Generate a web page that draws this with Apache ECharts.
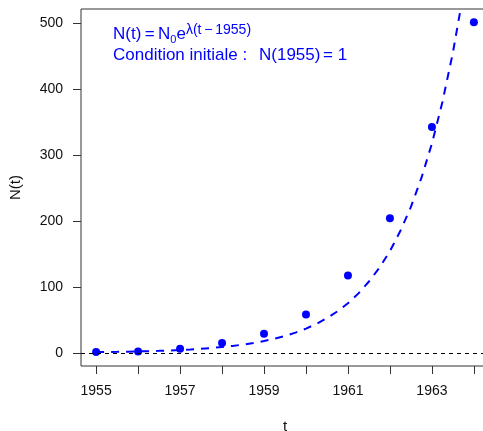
<!DOCTYPE html>
<html>
<head>
<meta charset="utf-8">
<script src="https://cdn.jsdelivr.net/npm/echarts@6/dist/echarts.min.js"></script>
<style>
html,body{margin:0;padding:0;background:#fff;}
#chart{width:483px;height:431px;}
</style>
</head>
<body>
<div id="chart"></div>
<script>
// Observed data
const years = [1955, 1956, 1957, 1958, 1959, 1960, 1961, 1962, 1963, 1964];
const counts = [1, 2, 6, 15, 29, 58, 117, 204, 342, 501];

// Fitted model curve N(t) = N0 e^{λ(t-1955)}
const curveT = [1955, 1955.25, 1955.5, 1955.75, 1956, 1956.25, 1956.5, 1956.75, 1957, 1957.25,
  1957.5, 1957.75, 1958, 1958.25, 1958.5, 1958.75, 1959, 1959.25, 1959.5, 1959.75,
  1960, 1960.25, 1960.5, 1960.75, 1961, 1961.25, 1961.5, 1961.75, 1962, 1962.25,
  1962.5, 1962.75, 1963, 1963.25, 1963.5, 1963.75];
const curveN = [1, 1.2, 1.43, 1.72, 2.05, 2.46, 2.95, 3.5, 4.2, 5.05,
  6.05, 7.2, 8.7, 10.4, 12.4, 14.9, 17.8, 21.3, 25.5, 30.6,
  36.6, 43.8, 52.5, 62.8, 75, 90, 108, 129, 154, 185,
  221, 265, 317, 380, 455, 545];

const yTicks = [0, 100, 200, 300, 400, 500];
const xTicks = [1955, 1956, 1957, 1958, 1959, 1960, 1961, 1962, 1963, 1964];
const xLabels = [1955, 1957, 1959, 1961, 1963];

const chart = echarts.init(document.getElementById('chart'), null, {renderer: 'canvas'});
const FONT = '"Liberation Sans", Arial, Helvetica, sans-serif';
const BLUE = '#0000FF';
const THIN = '\u2009';

chart.setOption({
  animation: false,
  backgroundColor: '#ffffff',
  grid: {
    left: 81, top: 9, width: 408, bottom: 65,
    containLabel: false,
    outerBoundsMode: 'none',
    show: true, borderColor: '#333', borderWidth: 1, backgroundColor: 'transparent'
  },
  xAxis: {
    type: 'value', min: 1954.64, max: 1964.36,
    axisLine: {show: false, onZero: false},
    splitLine: {show: false},
    axisTick: {show: true, inside: false, length: 8, customValues: xTicks, lineStyle: {color: '#333'}},
    axisLabel: {customValues: xLabels, margin: 18, fontSize: 14, color: '#111', fontFamily: FONT,
      formatter: v => String(v)},
    name: 't', nameLocation: 'middle', nameGap: 53,
    nameTextStyle: {fontSize: 15, color: '#111', fontFamily: FONT}
  },
  yAxis: {
    type: 'value', min: -20.04, max: 521,
    axisLine: {show: false, onZero: false},
    splitLine: {show: false},
    axisTick: {show: true, inside: false, length: 8, customValues: yTicks, lineStyle: {color: '#333'}},
    axisLabel: {customValues: yTicks, margin: 18, fontSize: 14, color: '#111', fontFamily: FONT},
    name: 'N(t)', nameLocation: 'middle', nameGap: 58, nameRotate: 90,
    nameTextStyle: {fontSize: 15, color: '#111', fontFamily: FONT}
  },
  series: [
    {
      type: 'line',
      data: curveT.map((t, i) => [t, curveN[i]]),
      showSymbol: false,
      symbol: 'none',
      clip: true,
      lineStyle: {color: BLUE, width: 2, type: [8, 7]},
      z: 2
    },
    {
      type: 'scatter',
      data: years.map((y, i) => [y, counts[i]]),
      symbol: 'circle',
      symbolSize: 8,
      itemStyle: {color: BLUE, opacity: 1},
      z: 3,
      markLine: {
        silent: true,
        symbol: 'none',
        label: {show: false},
        lineStyle: {color: '#000', width: 1, type: [4, 4]},
        data: [{yAxis: 0}]
      }
    }
  ],
  graphic: [
    {
      type: 'text', left: 113, top: 23, z: 10,
      style: {
        text: '{b|N(t)' + THIN + '=' + THIN + 'N}{sub|0}{b|e}{sup|λ(t' + THIN + '−' + THIN + '1955)}',
        fill: BLUE,
        font: '17px ' + FONT,
        rich: {
          b: {fontSize: 17, lineHeight: 22, fill: BLUE, fontFamily: FONT, verticalAlign: 'middle'},
          sub: {fontSize: 11, lineHeight: 13, fill: BLUE, fontFamily: FONT, verticalAlign: 'bottom'},
          sup: {fontSize: 14, lineHeight: 8, fill: BLUE, fontFamily: FONT, verticalAlign: 'top'}
        }
      }
    },
    {
      type: 'text', left: 113, top: 47, z: 10,
      style: {text: 'Condition initiale :', fill: BLUE, font: '17px ' + FONT}
    },
    {
      type: 'text', left: 259, top: 47, z: 10,
      style: {text: 'N(1955)', fill: BLUE, font: '17px ' + FONT}
    },
    {
      type: 'text', left: 323, top: 47, z: 10,
      style: {text: '= 1', fill: BLUE, font: '17px ' + FONT}
    }
  ]
});
</script>
</body>
</html>
